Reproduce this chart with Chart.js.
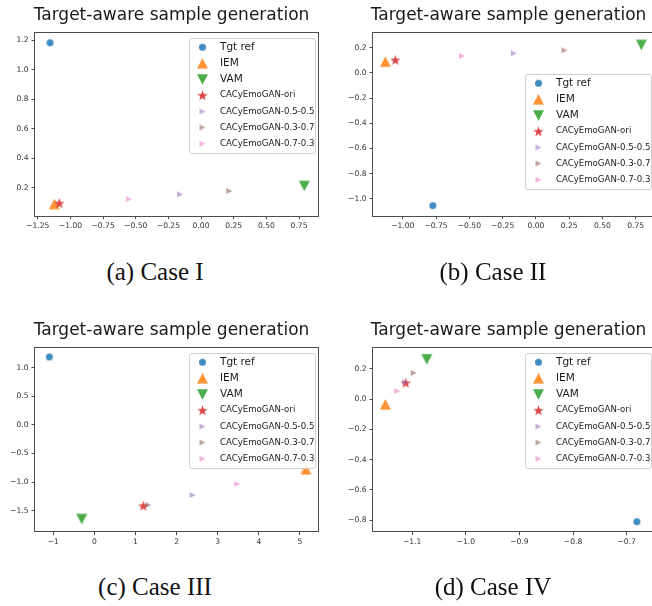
<!DOCTYPE html>
<html><head><meta charset="utf-8">
<script src="https://cdn.jsdelivr.net/npm/chart.js@4.4.1/dist/chart.umd.min.js"></script>
<style>
html,body{margin:0;padding:0;background:#fff;}
body{width:652px;height:606px;position:relative;overflow:hidden;}
canvas{position:absolute;}
.cap{position:absolute;width:240px;text-align:center;font-family:'Liberation Serif','Times New Roman',serif;font-size:25px;line-height:28px;color:#111;}
</style></head>
<body>
<canvas id="cA" width="344" height="240" style="left:0;top:0"></canvas>
<canvas id="cB" width="366" height="240" style="left:326px;top:0"></canvas>
<canvas id="cC" width="344" height="240" style="left:0;top:315px"></canvas>
<canvas id="cD" width="366" height="240" style="left:326px;top:315px"></canvas>
<div class="cap" style="left:35px;top:258px">(a) Case I</div>
<div class="cap" style="left:373px;top:258px">(b) Case II</div>
<div class="cap" style="left:35px;top:573px">(c) Case III</div>
<div class="cap" style="left:373px;top:573px">(d) Case IV</div>
<script>
// ---------- data ----------
const chartTitle = 'Target-aware sample generation';
const seriesNames = ['Tgt ref','IEM','VAM','CACyEmoGAN-ori','CACyEmoGAN-0.5-0.5','CACyEmoGAN-0.3-0.7','CACyEmoGAN-0.7-0.3'];

const case1X = [-1.156, -1.123, 0.790, -1.085, -0.161, 0.216, -0.551];
const case1Y = [1.184, 0.089, 0.212, 0.096, 0.155, 0.178, 0.123];

const case2X = [-0.774, -1.131, 0.793, -1.056, -0.165, 0.215, -0.555];
const case2Y = [-1.053, 0.089, 0.221, 0.103, 0.155, 0.179, 0.134];

const case3X = [-1.097, 5.148, -0.309, 1.19, 2.39, 1.31, 3.477];
const case3Y = [1.187, -0.776, -1.645, -1.413, -1.225, -1.40, -1.033];

const case4X = [-0.681, -1.150, -1.0726, -1.112, -1.113, -1.097, -1.128];
const case4Y = [-0.811, -0.034, 0.264, 0.109, 0.112, 0.174, 0.054];

const case1XTicks = [-1.25,-1.0,-0.75,-0.5,-0.25,0,0.25,0.5,0.75];
const case1XLabels = ['\u22121.25','\u22121.00','\u22120.75','\u22120.50','\u22120.25','0.00','0.25','0.50','0.75'];
const case1YTicks = [0.2,0.4,0.6,0.8,1.0,1.2];
const case1YLabels = ['0.2','0.4','0.6','0.8','1.0','1.2'];

const case2XTicks = [-1.0,-0.75,-0.5,-0.25,0,0.25,0.5,0.75];
const case2XLabels = ['\u22121.00','\u22120.75','\u22120.50','\u22120.25','0.00','0.25','0.50','0.75'];
const case2YTicks = [-1.0,-0.8,-0.6,-0.4,-0.2,0,0.2];
const case2YLabels = ['\u22121.0','\u22120.8','\u22120.6','\u22120.4','\u22120.2','0.0','0.2'];

const case3XTicks = [-1,0,1,2,3,4,5];
const case3XLabels = ['\u22121','0','1','2','3','4','5'];
const case3YTicks = [-1.5,-1.0,-0.5,0,0.5,1.0];
const case3YLabels = ['\u22121.5','\u22121.0','\u22120.5','0.0','0.5','1.0'];

const case4XTicks = [-1.1,-1.0,-0.9,-0.8,-0.7];
const case4XLabels = ['\u22121.1','\u22121.0','\u22120.9','\u22120.8','\u22120.7'];
const case4YTicks = [-0.8,-0.6,-0.4,-0.2,0,0.2];
const case4YLabels = ['\u22120.8','\u22120.6','\u22120.4','\u22120.2','0.0','0.2'];

// ---------- styles ----------
const colors = ['rgba(31,119,180,0.85)','rgba(255,127,14,0.85)','rgba(44,160,44,0.85)','rgba(214,39,40,0.85)','rgba(148,103,189,0.55)','rgba(140,86,75,0.55)','rgba(227,119,194,0.55)'];
const shapes = [['circle',7,7],['up',11,10.5],['down',11,10.5],['star',11,10.5],['right',6,6],['right',6,6],['right',6,6]];

function makeMarker(shape, w, h, color){
  const c = document.createElement('canvas');
  c.width = Math.ceil(w)+2; c.height = Math.ceil(h)+2;
  const g = c.getContext('2d');
  const cx = c.width/2, cy = c.height/2;
  g.fillStyle = color; g.beginPath();
  if (shape==='circle'){ g.arc(cx,cy,w/2,0,Math.PI*2); }
  else if (shape==='up'){ g.moveTo(cx,cy-h/2); g.lineTo(cx+w/2,cy+h/2); g.lineTo(cx-w/2,cy+h/2); }
  else if (shape==='down'){ g.moveTo(cx,cy+h/2); g.lineTo(cx+w/2,cy-h/2); g.lineTo(cx-w/2,cy-h/2); }
  else if (shape==='right'){ g.moveTo(cx+w/2,cy); g.lineTo(cx-w/2,cy-h/2); g.lineTo(cx-w/2,cy+h/2); }
  else if (shape==='star'){
    const ro = w/2, ri = ro*0.40;
    for (let i=0;i<10;i++){ const r = i%2?ri:ro; const a = -Math.PI/2 + i*Math.PI/5;
      const px = cx + r*Math.cos(a), py = cy + 0.6 + r*Math.sin(a);
      if(i===0) g.moveTo(px,py); else g.lineTo(px,py); }
  }
  g.closePath(); g.fill();
  return c;
}
const markers = shapes.map((s,i)=>makeMarker(s[0],s[1],s[2],colors[i]));

const framePlugin = {
  id:'frame',
  afterDatasetsDraw(chart){
    const a = chart.chartArea, ctx = chart.ctx;
    ctx.save(); ctx.strokeStyle = '#4d4d4d'; ctx.lineWidth = 1;
    ctx.strokeRect(Math.round(a.left)-0.5, Math.round(a.top)-0.5, Math.round(a.right-a.left)+1, Math.round(a.bottom-a.top)+1);
    ctx.restore();
  }
};
const legendRows = [8.7, 24.8, 41, 56.7, 73, 89, 105.2];
const legendPlugin = {
  id:'mplLegend',
  afterDatasetsDraw(chart, args, opts){
    const a = chart.chartArea, ctx = chart.ctx;
    const bx = Math.round(a.left + opts.dx)+0.5, by = Math.round(a.top + opts.dy)+0.5, bw = 126, bh = 115;
    ctx.save();
    ctx.beginPath();
    if (ctx.roundRect) ctx.roundRect(bx,by,bw,bh,2.5); else ctx.rect(bx,by,bw,bh);
    ctx.fillStyle = 'rgba(255,255,255,0.8)'; ctx.fill();
    ctx.strokeStyle = '#d0d0d0'; ctx.lineWidth = 1; ctx.stroke();
    ctx.textBaseline = 'middle'; ctx.textAlign = 'left'; ctx.fillStyle = '#1a1a1a';
    seriesNames.forEach((n,i)=>{
      const m = markers[i];
      const ry = by + legendRows[i];
      ctx.drawImage(m, bx + 13 - m.width/2, ry - m.height/2);
      ctx.font = (i<3 ? '10.5px' : '8.6px') + " 'DejaVu Sans'";
      ctx.fillText(n, bx + 30.5, ry);
    });
    ctx.restore();
  }
};

function makeChart(id, xs, ys, xr, yr, xt, xtl, yt, ytl, lay){
  const canvas = document.getElementById(id);
  const tickFont = {family:'DejaVu Sans', size:7.6};
  const grid = {display:true, drawOnChartArea:false, drawTicks:true, tickLength:3.5, tickColor:'#4d4d4d', tickWidth:1};
  return new Chart(canvas, {
    type:'scatter',
    data:{ datasets: seriesNames.map((n,i)=>({label:n, data:[{x:xs[i], y:ys[i]}], pointStyle:markers[i], pointRadius:5, order:6-i})) },
    options:{
      responsive:false, animation:false, devicePixelRatio:1,
      layout:{padding:{top:lay.padTop, left:0, right:1, bottom:0}},
      plugins:{
        legend:{display:false}, tooltip:{enabled:false},
        title:{display:true, text:chartTitle, color:'#1a1a1a', font:{family:'DejaVu Sans', size:17, weight:'normal', lineHeight:1.2}, padding:{top:5,bottom:7.4}},
        mplLegend:{dx:lay.ldx, dy:lay.ldy}
      },
      scales:{
        x:{type:'linear', min:xr[0], max:xr[1],
           afterBuildTicks:ax=>{ax.ticks = xt.map(v=>({value:v}));},
           afterFit:ax=>{ax.height = lay.xH;},
           ticks:{autoSkip:false, maxRotation:0, minRotation:0, padding:2, color:'#333', font:tickFont, callback:(v,i)=>xtl[i]},
           grid:grid, border:{display:false}},
        y:{type:'linear', position:'left', min:yr[0], max:yr[1],
           afterBuildTicks:ax=>{ax.ticks = yt.map(v=>({value:v}));},
           afterFit:ax=>{ax.width = lay.yW;},
           ticks:{autoSkip:false, padding:3, color:'#333', font:tickFont, callback:(v,i)=>ytl[i]},
           grid:grid, border:{display:false}},
        yPad:{type:'linear', position:'right', display:true,
           afterFit:ax=>{ax.width = lay.rW;},
           ticks:{display:false}, grid:{display:false}, border:{display:false}}
      }
    },
    plugins:[framePlugin, legendPlugin]
  });
}

makeChart('cA', case1X, case1Y, [-1.271, 0.895], [0.01, 1.25], case1XTicks, case1XLabels, case1YTicks, case1YLabels,
  {padTop:0.2, yW:35, rW:25, xH:24.3, ldx:154, ldy:4.7});
makeChart('cB', case2X, case2Y, [-1.224, 0.888], [-1.133, 0.316], case2XTicks, case2XLabels, case2YTicks, case2YLabels,
  {padTop:0.2, yW:47, rW:37, xH:24.3, ldx:152.3, ldy:41});
makeChart('cC', case3X, case3Y, [-1.445, 5.44], [-1.867, 1.339], case3XTicks, case3XLabels, case3YTicks, case3YLabels,
  {padTop:0.5, yW:35, rW:25, xH:23.3, ldx:153.7, ldy:4.4});
makeChart('cD', case4X, case4Y, [-1.173, -0.649], [-0.877, 0.337], case4XTicks, case4XLabels, case4YTicks, case4YLabels,
  {padTop:0.5, yW:47, rW:37, xH:23.3, ldx:152.3, ldy:4.4});
</script>
</body></html>
